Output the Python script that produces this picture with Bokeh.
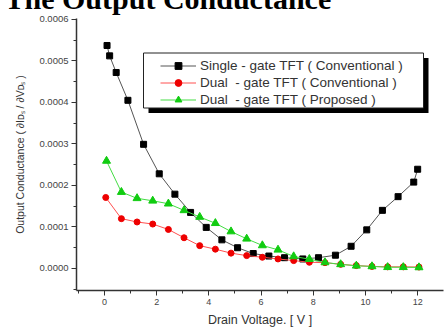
from bokeh.plotting import figure
from bokeh.models import (Range1d, SingleIntervalTicker, NumeralTickFormatter, Legend,
                          LegendItem, BoxAnnotation, LinearAxis, FixedTicker, Title)
from bokeh.embed import file_html
from bokeh.resources import INLINE

# ---- data ----
single_v = [0.1, 0.2, 0.45, 0.9, 1.5, 2.1, 2.7, 3.3, 3.9, 4.5, 5.1, 5.7, 6.3, 6.9,
            7.6, 8.2, 8.85, 9.45, 10.05, 10.65, 11.25, 11.85, 12.0]
single_g = [5.37e-4, 5.12e-4, 4.72e-4, 4.05e-4, 2.99e-4, 2.28e-4, 1.79e-4, 1.35e-4,
            0.99e-4, 0.69e-4, 0.50e-4, 0.36e-4, 0.30e-4, 0.26e-4, 0.23e-4, 0.26e-4,
            0.32e-4, 0.535e-4, 0.93e-4, 1.40e-4, 1.73e-4, 2.08e-4, 2.39e-4]

dual_conv_v = [0.05, 0.65, 1.25, 1.85, 2.45, 3.05, 3.65, 4.25, 4.85, 5.45, 6.05, 6.65,
               7.25, 7.85, 8.45, 9.05, 9.65, 10.25, 10.85, 11.45, 12.05]
dual_conv_g = [1.71e-4, 1.20e-4, 1.12e-4, 1.07e-4, 0.94e-4, 0.74e-4, 0.55e-4, 0.465e-4,
               0.37e-4, 0.31e-4, 0.27e-4, 0.23e-4, 0.19e-4, 0.15e-4, 0.14e-4, 0.10e-4,
               0.07e-4, 0.05e-4, 0.04e-4, 0.04e-4, 0.035e-4]

dual_prop_v = [0.08, 0.65, 1.25, 1.85, 2.45, 3.05, 3.65, 4.25, 4.85, 5.45, 6.05, 6.65,
               7.25, 7.85, 8.45, 9.05, 9.65, 10.25, 10.85, 11.45, 12.05]
dual_prop_g = [2.59e-4, 1.84e-4, 1.69e-4, 1.63e-4, 1.56e-4, 1.40e-4, 1.24e-4, 1.09e-4,
               0.89e-4, 0.715e-4, 0.555e-4, 0.45e-4, 0.29e-4, 0.225e-4, 0.145e-4, 0.10e-4,
               0.065e-4, 0.05e-4, 0.03e-4, 0.03e-4, 0.025e-4]

series_labels = ["Single - gate TFT ( Conventional )",
                 "Dual  - gate TFT ( Conventional )",
                 "Dual  - gate TFT ( Proposed )"]
title_text = "The Output Conductance"
x_label = "Drain Voltage. [ V ]"
y_label = "Output Conductance ( \u2202I\u1d05\u209b / \u2202V\u1d05\u209b )"

FONT = "Liberation Sans"

p = figure(width=444, height=329, output_backend="svg", toolbar_location=None,
           x_range=Range1d(-1.07, 12.99), y_range=Range1d(-0.000053, 0.000602),
           min_border_left=76, min_border_right=1, min_border_top=18, min_border_bottom=39)
p.outline_line_color = None
p.xgrid.visible = False
p.ygrid.visible = False
p.title.text = ""

xa = p.below[0]
ya = p.left[0]

# invisible spacer above the frame that lifts the title panel up
spacer = LinearAxis(ticker=FixedTicker(ticks=[5], minor_ticks=[]), axis_line_color=None,
                    major_tick_out=18, major_tick_in=0, minor_tick_out=0, minor_tick_in=0,
                    major_label_standoff=0, major_tick_line_color=None, minor_tick_line_color=None,
                    major_label_overrides={5: ""}, major_label_text_font_size="1px",
                    major_label_text_alpha=0)
p.add_layout(spacer, "above")

# title (cut off at the top edge, as in the reference)
title = Title(text=title_text, text_font="Liberation Serif", text_font_style="bold",
              text_font_size="30px", text_color="black", align="left", vertical_align="top",
              offset=-72, standoff=-38)
p.add_layout(title, "above")

# axes
xa.ticker = SingleIntervalTicker(interval=2, num_minor_ticks=2)
ya.ticker = SingleIntervalTicker(interval=0.0001, num_minor_ticks=2)
ya.formatter = NumeralTickFormatter(format="0.0000")
for ax in (xa, ya):
    ax.axis_line_color = "#333333"
    ax.axis_line_width = 1.5
    ax.major_tick_line_color = "#333333"
    ax.minor_tick_line_color = "#333333"
    ax.major_tick_out = 5
    ax.major_tick_in = 0
    ax.minor_tick_out = 3
    ax.minor_tick_in = 0
    ax.major_label_text_font = FONT
    ax.major_label_text_color = "#444444"
    ax.major_label_standoff = 3
    ax.axis_label_text_font = FONT
    ax.axis_label_text_font_style = "normal"
    ax.axis_label_text_color = "#333333"
xa.major_label_text_font_size = "9px"
ya.major_label_text_font_size = "9.5px"
xa.axis_label = x_label
ya.axis_label = y_label
xa.axis_label_text_font_size = "12.5px"
ya.axis_label_text_font_size = "10.5px"
xa.axis_label_standoff = 5
ya.axis_label_standoff = 10

# series
l1 = p.line(single_v, single_g, line_color="#555555", line_width=1)
s1 = p.scatter(single_v, single_g, marker="square", size=6, fill_color="black", line_color="black")
l2 = p.line(dual_conv_v, dual_conv_g, line_color="#ff5050", line_width=1)
s2 = p.scatter(dual_conv_v, dual_conv_g, marker="circle", size=6, fill_color="#ee0000", line_color="#ee0000")
l3 = p.line(dual_prop_v, dual_prop_g, line_color="#44dd44", line_width=1)
s3 = p.scatter(dual_prop_v, dual_prop_g, marker="triangle", size=8, fill_color="#11cc11", line_color="#11cc11")

# legend frame with drop shadow
shadow = BoxAnnotation(left=72, right=352, top=232.5, bottom=177.5,
                       left_units="screen", right_units="screen", top_units="screen", bottom_units="screen",
                       fill_color="black", fill_alpha=1, line_color=None)
box = BoxAnnotation(left=67, right=347, top=237.5, bottom=182.5,
                    left_units="screen", right_units="screen", top_units="screen", bottom_units="screen",
                    fill_color="white", fill_alpha=1, line_color="#222222", line_width=1, line_alpha=1)
p.add_layout(shadow)
p.add_layout(box)

legend = Legend(items=[LegendItem(label=series_labels[0], renderers=[l1, s1]),
                       LegendItem(label=series_labels[1], renderers=[l2, s2]),
                       LegendItem(label=series_labels[2], renderers=[l3, s3])],
                location=(84, 182), padding=2, margin=0, spacing=0,
                glyph_width=36, glyph_height=17, label_height=17, label_standoff=4,
                label_text_font=FONT, label_text_font_size="13.5px", label_text_color="#333333",
                border_line_color=None, background_fill_alpha=0)
p.add_layout(legend, "center")

open("out.html", "w").write(file_html(p, INLINE))
